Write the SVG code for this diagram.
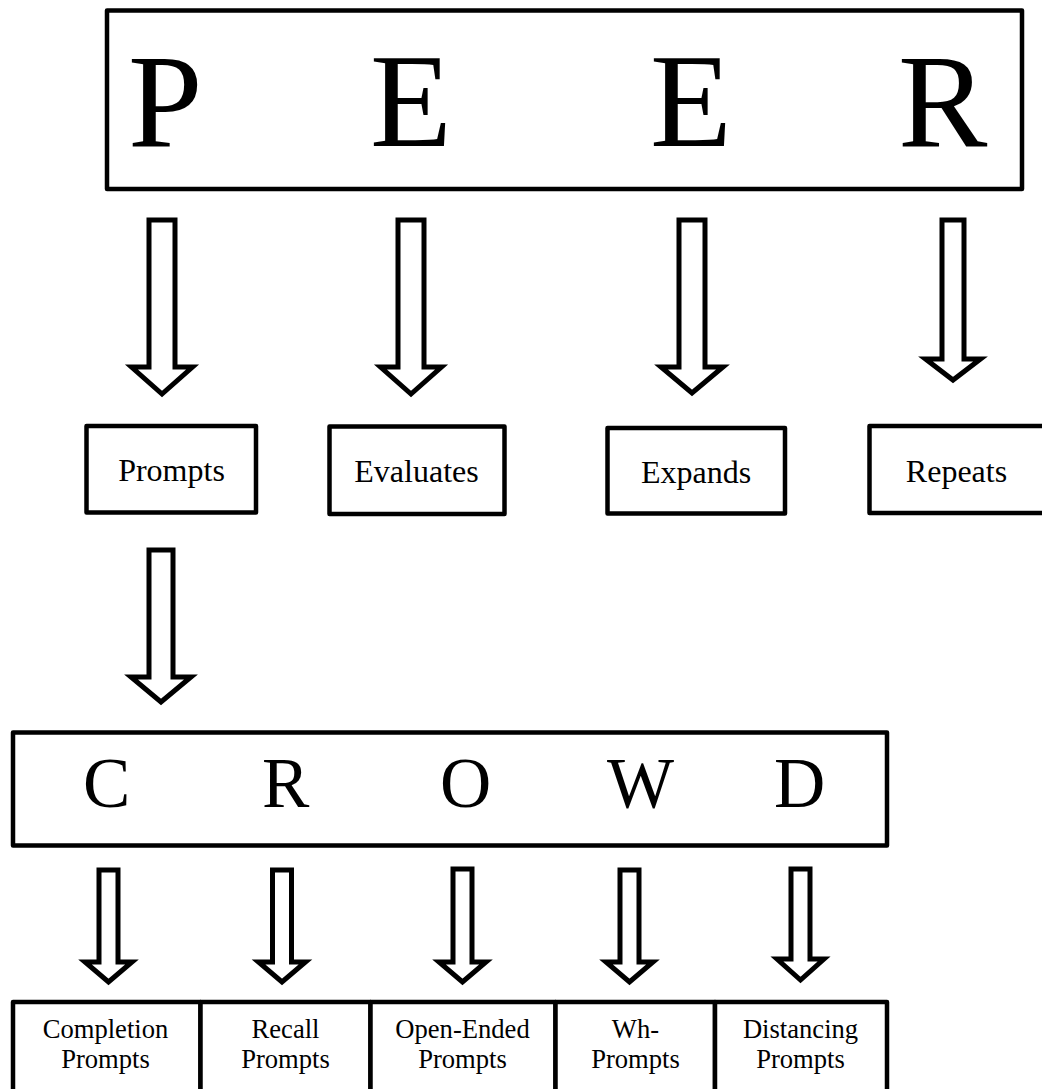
<svg xmlns="http://www.w3.org/2000/svg" width="1042" height="1089" viewBox="0 0 1042 1089">
<style>
.box{fill:#fff;stroke:#000;stroke-width:4.5;stroke-linejoin:round}
.arrow{fill:#fff;stroke:#000;stroke-width:5;stroke-linejoin:miter;stroke-miterlimit:10}
.big{font-family:"Liberation Serif","Times New Roman",serif;font-size:134px;fill:#000}
.mid{font-family:"Liberation Serif","Times New Roman",serif;font-size:71px;fill:#000}
.lbl{font-family:"Liberation Serif","Times New Roman",serif;font-size:32px;fill:#000;text-anchor:middle}
.sm{font-family:"Liberation Serif","Times New Roman",serif;font-size:26.6px;fill:#000;text-anchor:middle}
</style>
<rect width="1042" height="1089" fill="#fff"/>
<g id="peer">
<rect class="box" x="107" y="10.5" width="915" height="178.5"/>
<text class="big" x="128" y="146">P</text>
<text class="big" x="370" y="146">E</text>
<text class="big" x="650" y="146">E</text>
<text class="big" x="898" y="146">R</text>
</g>
<g id="prompts">
<rect class="box" x="86.5" y="426" width="169.5" height="86.5"/>
<text class="lbl" x="171.5" y="481">Prompts</text>
</g>
<g id="evaluates">
<rect class="box" x="329.5" y="426.5" width="175" height="87.5"/>
<text class="lbl" x="416.5" y="482">Evaluates</text>
</g>
<g id="expands">
<rect class="box" x="607.5" y="428" width="177.5" height="85.5"/>
<text class="lbl" x="696" y="483">Expands</text>
</g>
<g id="repeats">
<rect class="box" x="869.5" y="426" width="190" height="87"/>
<text class="lbl" x="956.5" y="482">Repeats</text>
</g>
<g id="crowd">
<rect class="box" x="13" y="732.5" width="874" height="113"/>
<text class="mid" x="83" y="807">C</text>
<text class="mid" x="262" y="807">R</text>
<text class="mid" x="440" y="807">O</text>
<text class="mid" x="607" y="807">W</text>
<text class="mid" x="774" y="807">D</text>
</g>
<g id="completion">
<rect class="box" x="13" y="1002" width="187.5" height="95"/>
<text class="sm" x="105.5" y="1038">Completion</text>
<text class="sm" x="105.5" y="1068">Prompts</text>
</g>
<g id="recall">
<rect class="box" x="200.5" y="1002" width="170" height="95"/>
<text class="sm" x="285.5" y="1038">Recall</text>
<text class="sm" x="285.5" y="1068">Prompts</text>
</g>
<g id="openended">
<rect class="box" x="370.5" y="1002" width="185" height="95"/>
<text class="sm" x="462.5" y="1038">Open-Ended</text>
<text class="sm" x="462.5" y="1068">Prompts</text>
</g>
<g id="wh">
<rect class="box" x="555.5" y="1002" width="159.5" height="95"/>
<text class="sm" x="635.5" y="1038">Wh-</text>
<text class="sm" x="635.5" y="1068">Prompts</text>
</g>
<g id="distancing">
<rect class="box" x="715" y="1002" width="172" height="95"/>
<text class="sm" x="800.5" y="1038">Distancing</text>
<text class="sm" x="800.5" y="1068">Prompts</text>
</g>
<g id="connectors">
<polygon class="arrow" points="149,220 175,220 175,367 192.5,367 162,394 131.5,367 149,367"/>
<polygon class="arrow" points="398,220 424,220 424,367 441.5,367 411,394 380.5,367 398,367"/>
<polygon class="arrow" points="679,220 705,220 705,367 723,367 692,393 661,367 679,367"/>
<polygon class="arrow" points="942,220 964,220 964,359 980.5,359 953,380 925.5,359 942,359"/>
<polygon class="arrow" points="149,550 173,550 173,677 191,677 161,702 131,677 149,677"/>
<polygon class="arrow" points="99,870 118,870 118,962 132,962 108.5,982 85,962 99,962"/>
<polygon class="arrow" points="272.5,870 291.5,870 291.5,962 305.5,962 282,982 258.5,962 272.5,962"/>
<polygon class="arrow" points="453,869 472,869 472,962 486,962 462.5,982 439,962 453,962"/>
<polygon class="arrow" points="620,870 639,870 639,962 653,962 629.5,982 606,962 620,962"/>
<polygon class="arrow" points="791,869 810,869 810,959 824,959 800.5,980 777,959 791,959"/>
</g>
</svg>
